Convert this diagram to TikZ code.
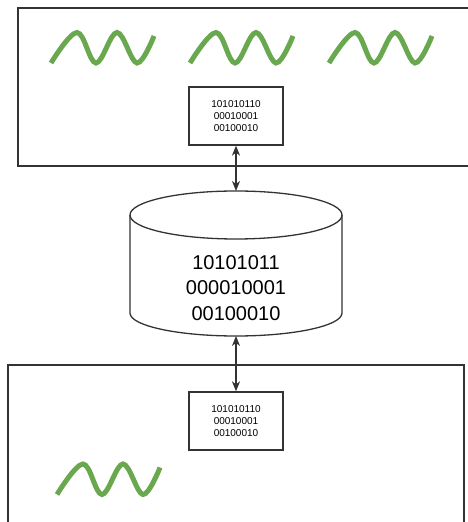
\documentclass[tikz,border=0pt]{standalone}
\usepackage{fontspec}
\setmainfont{Liberation Sans}
\usetikzlibrary{arrows.meta}
\definecolor{edge}{HTML}{333333}
\definecolor{wavegreen}{HTML}{6AA84F}
\tikzset{
  frame/.style={draw=edge, line width=1.3pt},
  datacard/.style={draw=edge, line width=1.3pt, fill=white, minimum width=94pt,
    minimum height=58pt, inner sep=0pt, align=center,
    font=\fontsize{10}{12}\selectfont},
  dbtext/.style={align=center, inner sep=0pt, font=\fontsize{20}{25.5}\selectfont},
  link/.style={draw=edge, line width=1.3pt,
    {Stealth[length=10pt,width=8pt,inset=3pt]}-{Stealth[length=10pt,width=8pt,inset=3pt]}},
  signal/.style={draw=wavegreen, line width=5pt},
  wave/.pic={\draw[signal] plot[smooth, tension=0.6]
    coordinates {(0,0) (26,30.5) (45,0) (66,30.5) (86,0) (103,27)};}
}
\begin{document}
\begin{tikzpicture}[x=1pt,y=1pt]
\useasboundingbox (0,0) rectangle (468,522);
\clip (0,0) rectangle (468,522);

% outer frames
\draw[frame] (18,514) rectangle (480,356);
\draw[frame] (8,157) rectangle (464,-10);

% signals
\pic at (51,459) {wave};
\pic at (190,459) {wave};
\pic at (329,459) {wave};
\pic at (57,27.5) {wave};

% data cards
\node[datacard] (topcard) at (236,406) {101010110\\00010001\\00100010};
\node[datacard] (botcard) at (236,101) {101010110\\00010001\\00100010};

% storage cylinder
\draw[frame, fill=white, line join=round]
  (130,307) -- (130,209) arc (180:360:106 and 23) -- (342,307)
  arc (0:180:106 and 24) -- cycle;
\draw[frame] (130,307) arc (180:360:106 and 24);
\coordinate (dbtop) at (236,331);
\coordinate (dbbot) at (236,186);
\node[dbtext] (dblabel) at (236,234) {10101011\\000010001\\00100010};

% connectors
\draw[link] (topcard.south) -- (dbtop);
\draw[link] (dbbot) -- (botcard.north);
\end{tikzpicture}
\end{document}
